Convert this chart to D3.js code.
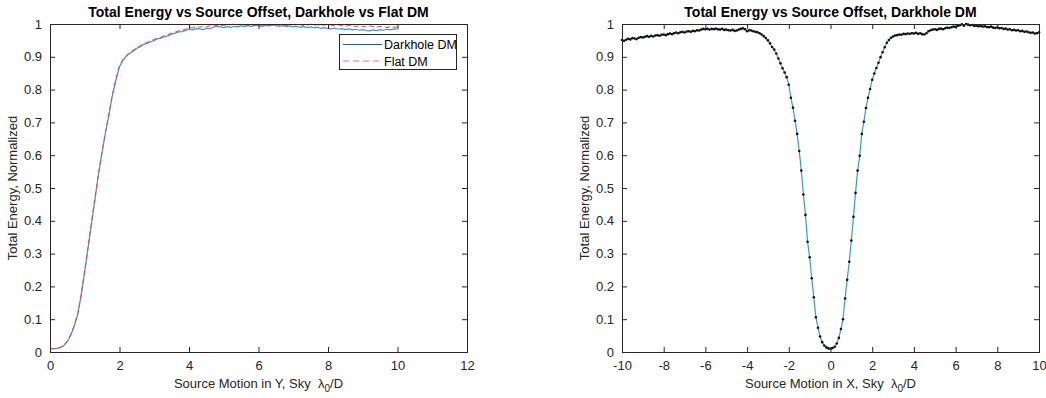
<!DOCTYPE html>
<html>
<head>
<meta charset="utf-8">
<script src="https://cdn.jsdelivr.net/npm/d3@7"></script>
<style>
  html, body { margin: 0; padding: 0; background: #fff; }
  svg { display: block; font-family: "Liberation Sans", Arial, sans-serif; }
</style>
</head>
<body>
<svg id="chart" width="1046" height="398"></svg>
<script>
// Offsets in sky lambda0/D, step 0.1
const yOffsets = d3.range(0, 101).map(i => +(i * 0.1).toFixed(1));
const xOffsets = d3.range(0, 201).map(i => +(-10 + i * 0.1).toFixed(1));

// Normalized total energy vs Y offset, Darkhole DM
const darkholeY = [
  .010,.010,.011,.013,.020,.032,.052,.080,.115,.175,
  .245,.320,.395,.470,.545,.610,.670,.725,.785,.830,
  .870,.889,.902,.911,.918,.926,.931,.938,.941,.946,
  .950,.955,.957,.962,.964,.969,.972,.976,.977,.980,
  .984,.982,.986,.985,.983,.987,.986,.990,.993,.991,
  .989,.992,.990,.993,.991,.994,.992,.995,.993,.996,
  .995,.993,.996,.994,.997,.995,.993,.995,.992,.994,
  .991,.993,.990,.992,.989,.991,.988,.990,.987,.989,
  .986,.985,.987,.984,.986,.983,.985,.982,.984,.981,
  .983,.980,.979,.982,.980,.983,.981,.984,.982,.985,
  .984
];

// Normalized total energy vs Y offset, Flat DM
const flatY = [
  .010,.010,.011,.014,.021,.034,.054,.082,.118,.178,
  .250,.325,.400,.474,.548,.612,.673,.728,.787,.833,
  .873,.893,.905,.913,.921,.928,.934,.940,.944,.949,
  .953,.957,.960,.965,.968,.972,.975,.979,.981,.984,
  .990,.988,.992,.990,.993,.991,.995,.993,.996,.994,
  .997,.995,.998,1.000,.997,.999,.996,.998,.995,.997,
  .999,.996,.998,.995,.997,.999,.996,.998,.995,.997,
  .999,.996,.998,.995,.997,.999,.996,.998,.995,.997,
  .999,.996,.994,.997,.995,.993,.996,.994,.992,.995,
  .993,.991,.994,.992,.990,.993,.991,.989,.992,.990,
  .991
];

// Normalized total energy vs X offset, Darkhole DM
const darkholeX = [
  .951,.949,.952,.955,.953,.957,.956,.954,.958,.960,
  .959,.961,.963,.961,.964,.962,.965,.966,.964,.967,
  .968,.966,.969,.971,.969,.972,.974,.972,.975,.976,
  .974,.977,.978,.976,.979,.978,.981,.980,.983,.985,
  .984,.985,.983,.985,.984,.986,.984,.983,.985,.982,
  .983,.981,.980,.982,.979,.980,.983,.985,.987,.984,
  .978,.981,.980,.978,.976,.975,.972,.968,.963,.957,
  .950,.941,.930,.922,.910,.895,.880,.865,.852,.838,
  .815,.775,.745,.705,.665,.613,.553,.480,.418,.336,
  .289,.225,.167,.106,.074,.047,.030,.020,.014,.011,
  .010,.012,.016,.026,.043,.070,.100,.163,.220,.275,
  .340,.412,.485,.553,.598,.665,.702,.744,.775,.802,
  .830,.849,.866,.882,.899,.914,.929,.943,.951,.958,
  .962,.965,.966,.968,.967,.970,.969,.971,.970,.972,
  .971,.973,.970,.972,.969,.968,.972,.978,.981,.983,
  .984,.982,.985,.986,.984,.987,.989,.988,.990,.992,
  .991,.994,.996,.999,.995,1.000,.998,.996,.997,.994,
  .995,.993,.994,.992,.993,.991,.990,.992,.989,.988,
  .990,.987,.988,.985,.986,.983,.984,.981,.982,.980,
  .981,.978,.979,.976,.977,.975,.973,.974,.971,.972,
  .975
];

const energyTicks = [0, 0.1, 0.2, 0.3, 0.4, 0.5, 0.6, 0.7, 0.8, 0.9, 1];
const yOffsetTicks = [0, 2, 4, 6, 8, 10, 12];
const xOffsetTicks = [-10, -8, -6, -4, -2, 0, 2, 4, 6, 8, 10];

const axisColor = "#262626";
const svg = d3.select("#chart");

const plotTop = 24, plotBottom = 352;
const yScale = d3.scaleLinear().domain([0, 1]).range([plotBottom, plotTop]);

function drawFrame(g, x, xTicks, title, xlabelMain) {
  const [x0, x1] = x.range();
  const tick = 5;

  // bottom axis with inward ticks
  const xb = g.append("g").attr("transform", `translate(0,${plotBottom})`)
    .call(d3.axisBottom(x).tickValues(xTicks).tickSize(-tick).tickPadding(9)
      .tickFormat(d => String(d)));
  // top axis ticks
  const xt = g.append("g").attr("transform", `translate(0,${plotTop})`)
    .call(d3.axisTop(x).tickValues(xTicks).tickSize(-tick).tickFormat(""));
  // left axis
  const yl = g.append("g").attr("transform", `translate(${x0},0)`)
    .call(d3.axisLeft(yScale).tickValues(energyTicks).tickSize(-tick).tickPadding(8)
      .tickFormat(d => String(d)));
  // right axis ticks
  const yr = g.append("g").attr("transform", `translate(${x1},0)`)
    .call(d3.axisRight(yScale).tickValues(energyTicks).tickSize(-tick).tickFormat(""));

  [xb, xt, yl, yr].forEach(a => {
    a.select(".domain").attr("stroke", axisColor).attr("stroke-width", 1);
    a.selectAll(".tick line").attr("stroke", axisColor);
    a.selectAll(".tick text").attr("fill", axisColor)
      .style("font-size", "13px").style("font-family", "'Liberation Sans', Arial, sans-serif");
  });

  const cx = (x0 + x1) / 2;
  g.append("text").attr("x", cx).attr("y", 17).attr("text-anchor", "middle")
    .attr("font-weight", "bold").attr("font-size", 14).attr("fill", "#000").text(title);

  const xl = g.append("text").attr("x", cx).attr("y", 388).attr("text-anchor", "middle")
    .attr("font-size", 13).attr("fill", axisColor).style("white-space", "pre");
  xl.append("tspan").text(xlabelMain);
  xl.append("tspan").text("λ");
  xl.append("tspan").attr("font-size", 10).attr("dy", 4).text("0");
  xl.append("tspan").attr("dy", -4).text("/D");

  g.append("text")
    .attr("transform", `translate(${x0 - 33},${(plotTop + plotBottom) / 2}) rotate(-90)`)
    .attr("text-anchor", "middle").attr("font-size", 13).attr("fill", axisColor)
    .text("Total Energy, Normalized");
}

// ---- Left panel: Y offset, Darkhole vs Flat DM ----
const xLeft = d3.scaleLinear().domain([0, 12]).range([50, 467]);
const gL = svg.append("g");

const lineL = (vals) => d3.line()
  .x((d, i) => xLeft(yOffsets[i]))
  .y(d => yScale(d))(vals);

gL.append("path").attr("d", lineL(darkholeY)).attr("fill", "none")
  .attr("stroke", "#3a96dc").attr("stroke-width", 1.2);
gL.append("path").attr("d", lineL(flatY)).attr("fill", "none")
  .attr("stroke", "#ff3a3a").attr("stroke-width", 1).attr("stroke-dasharray", "5,3");

drawFrame(gL, xLeft, yOffsetTicks, "Total Energy vs Source Offset, Darkhole vs Flat DM",
  "Source Motion in Y, Sky  ");

// legend
const lg = gL.append("g");
lg.append("rect").attr("x", 339.5).attr("y", 34.5).attr("width", 117).attr("height", 35)
  .attr("fill", "#fff").attr("stroke", axisColor).attr("stroke-width", 1);
const legendItems = [
  { label: "Darkhole DM", color: "#0b5fa8", dash: null },
  { label: "Flat DM", color: "#ff6b6b", dash: "6,4" }
];
legendItems.forEach((it, i) => {
  const yy = 44.5 + i * 16.5;
  lg.append("line").attr("x1", 343).attr("x2", 382).attr("y1", yy).attr("y2", yy)
    .attr("stroke", it.color).attr("stroke-width", 1)
    .attr("stroke-dasharray", it.dash);
  lg.append("text").attr("x", 384).attr("y", yy + 4.5).attr("font-size", 12.5)
    .attr("fill", "#000").text(it.label);
});

// ---- Right panel: X offset, Darkhole DM ----
const xRight = d3.scaleLinear().domain([-10, 10]).range([622, 1039]);
const gR = svg.append("g");

gR.append("path")
  .attr("d", d3.line().x((d, i) => xRight(xOffsets[i])).y(d => yScale(d))(darkholeX))
  .attr("fill", "none").attr("stroke", "#3a96dc").attr("stroke-width", 1.2);
gR.append("g").selectAll("circle").data(darkholeX).join("circle")
  .attr("cx", (d, i) => xRight(xOffsets[i])).attr("cy", d => yScale(d))
  .attr("r", 1.3).attr("fill", "#111");

drawFrame(gR, xRight, xOffsetTicks, "Total Energy vs Source Offset, Darkhole DM",
  "Source Motion in X, Sky  ");
</script>
</body>
</html>
